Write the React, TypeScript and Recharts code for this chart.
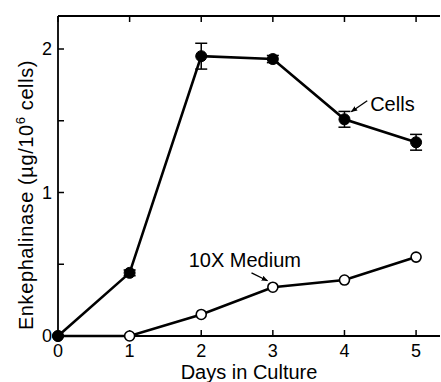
import React from 'react';
import { LineChart, Line, XAxis, YAxis, ErrorBar, ReferenceLine, ReferenceDot } from 'recharts';

const days = [0, 1, 2, 3, 4, 5];
const cells = [0, 0.44, 1.95, 1.93, 1.51, 1.35];
const cellsErr = [0, 0.02, 0.09, 0.025, 0.055, 0.055];
const medium = [0, 0, 0.15, 0.34, 0.39, 0.55];
const xTicks = [0, 1, 2, 3, 4, 5];
const yTicks = [0, 0.5, 1, 1.5, 2];

const data = days.map((d, i) => ({ day: d, cells: cells[i], cellsErr: cellsErr[i], medium: medium[i] }));

const FONT = 'Liberation Sans, Arial, Helvetica, sans-serif';

const YLabel = (props: any) => {
  const vb = props.viewBox || {};
  const x = vb.x + 33;
  const y = 195;
  return (
    <text x={x} y={y} transform={`rotate(-90 ${x} ${y})`} textAnchor="middle" fontFamily={FONT} fontSize={20} fill="#000" letterSpacing={0.6}>
      Enkephalinase (µg/10<tspan fontSize={13} dy={-8}>6</tspan><tspan dy={8}> cells)</tspan>
    </text>
  );
};

const textShape = (label: string) => (props: any) => (
  <text x={props.cx} y={props.cy} fontFamily={FONT} fontSize={20} fill="#000">{label}</text>
);

const filledDot = (props: any) => <circle key={props.index} cx={props.cx} cy={props.cy} r={5.5} fill="#000" stroke="#000" strokeWidth={1} />;
const openDot = (props: any) => <circle key={props.index} cx={props.cx} cy={props.cy} r={5} fill="#fff" stroke="#000" strokeWidth={1.6} />;
const blank = () => '';

export default function App() {
  return (
    <div style={{ position: 'absolute', left: 0, top: 0, background: '#fff' }}>
      <LineChart width={441} height={382} data={data} margin={{ top: 15, right: 0, bottom: 0, left: 0 }}>
        <defs>
          <marker id="arr" viewBox="0 0 10 10" refX="9" refY="5" markerWidth="5" markerHeight="5" orient="auto">
            <path d="M0,1 L10,5 L0,9 z" fill="#000" />
          </marker>
        </defs>
        <XAxis
          dataKey="day"
          type="number"
          domain={[0, 5.334]}
          ticks={xTicks}
          height={46}
          tickSize={-6}
          tickMargin={14}
          axisLine={{ stroke: '#000', strokeWidth: 2.2 }}
          tickLine={{ stroke: '#000', strokeWidth: 1.5 }}
          tick={{ fill: '#000', fontSize: 18, fontFamily: FONT }}
          label={{ value: 'Days in Culture', position: 'insideBottom', offset: 3, fill: '#000', fontSize: 20, fontFamily: FONT }}
        />
        <XAxis
          xAxisId="top"
          orientation="top"
          dataKey="day"
          type="number"
          domain={[0, 5.334]}
          ticks={xTicks}
          height={1}
          tickSize={-6}
          tickFormatter={blank}
          axisLine={{ stroke: '#000', strokeWidth: 2 }}
          tickLine={{ stroke: '#000', strokeWidth: 1.5 }}
        />
        <YAxis
          type="number"
          domain={[0, 2.23]}
          ticks={yTicks}
          width={58}
          tickSize={-6}
          tickMargin={12}
          tickFormatter={(v: number) => (v % 1 === 0 ? String(v) : '')}
          axisLine={{ stroke: '#000', strokeWidth: 1.8 }}
          tickLine={{ stroke: '#000', strokeWidth: 1.5 }}
          tick={{ fill: '#000', fontSize: 18, fontFamily: FONT }}
          label={<YLabel />}
        />
        <YAxis
          yAxisId="right"
          orientation="right"
          type="number"
          domain={[0, 2.23]}
          ticks={yTicks}
          width={1}
          tickSize={-6}
          tickFormatter={blank}
          axisLine={false}
          tickLine={{ stroke: '#000', strokeWidth: 1.5 }}
        />
        <Line dataKey="medium" stroke="#000" strokeWidth={2.6} dot={openDot} isAnimationActive={false} />
        <Line dataKey="cells" stroke="#000" strokeWidth={2.6} dot={filledDot} isAnimationActive={false}>
          <ErrorBar dataKey="cellsErr" direction="y" width={6} stroke="#000" strokeWidth={1.5} />
        </Line>
        <ReferenceLine segment={[{ x: 4.318, y: 1.639 }, { x: 4.095, y: 1.563 }]} stroke="#000" strokeWidth={1.3} markerEnd="url(#arr)" />
        <ReferenceLine segment={[{ x: 2.702, y: 0.44 }, { x: 2.925, y: 0.385 }]} stroke="#000" strokeWidth={1.3} markerEnd="url(#arr)" />
        <ReferenceDot x={4.359} y={1.569} r={0} shape={textShape('Cells')} />
        <ReferenceDot x={1.825} y={0.479} r={0} shape={textShape('10X Medium')} />
      </LineChart>
    </div>
  );
}
